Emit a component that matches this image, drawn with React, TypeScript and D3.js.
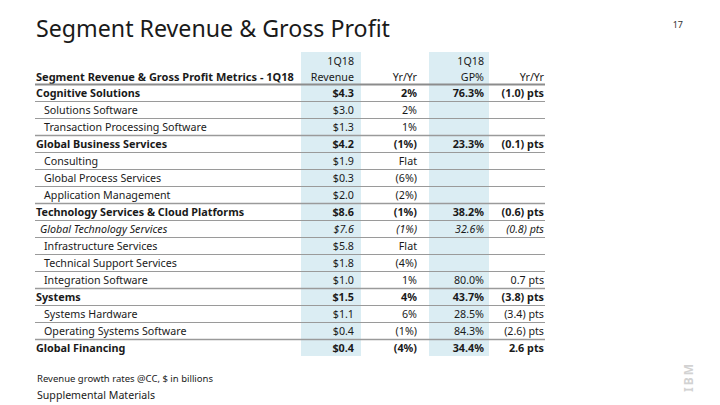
import React from "react";
import * as d3 from "d3";

const rowLabels = [
  "Cognitive Solutions",
  "Solutions Software",
  "Transaction Processing Software",
  "Global Business Services",
  "Consulting",
  "Global Process Services",
  "Application Management",
  "Technology Services & Cloud Platforms",
  "Global Technology Services",
  "Infrastructure Services",
  "Technical Support Services",
  "Integration Software",
  "Systems",
  "Systems Hardware",
  "Operating Systems Software",
  "Global Financing",
];
const rowTypes = ["seg", "sub", "sub", "seg", "sub", "sub", "sub", "seg", "ital", "sub", "sub", "sub", "seg", "sub", "sub", "seg"];
const revenue = ["$4.3", "$3.0", "$1.3", "$4.2", "$1.9", "$0.3", "$2.0", "$8.6", "$7.6", "$5.8", "$1.8", "$1.0", "$1.5", "$1.1", "$0.4", "$0.4"];
const revYrYr = ["2%", "2%", "1%", "(1%)", "Flat", "(6%)", "(2%)", "(1%)", "(1%)", "Flat", "(4%)", "1%", "4%", "6%", "(1%)", "(4%)"];
const gpPct = ["76.3%", "", "", "23.3%", "", "", "", "38.2%", "32.6%", "", "", "80.0%", "43.7%", "28.5%", "84.3%", "34.4%"];
const gpYrYr = ["(1.0) pts", "", "", "(0.1) pts", "", "", "", "(0.6) pts", "(0.8) pts", "", "", "0.7 pts", "(3.8) pts", "(3.4) pts", "(2.6) pts", "2.6 pts"];
const headerTop = ["", "1Q18", "", "1Q18", ""];
const headerBottom = ["Segment Revenue & Gross Profit Metrics - 1Q18", "Revenue", "Yr/Yr", "GP%", "Yr/Yr"];

const FONT = "'Noto Sans', 'Open Sans', sans-serif";

export default function App() {
  const W = 720, H = 405;
  const tableLeft = 36, tableRight = 545;
  const y = d3.scaleBand<number>().domain(d3.range(rowLabels.length)).range([84, 84 + 17 * rowLabels.length]);
  const colRight = [0, 354, 417, 484, 544];
  const shades = [[301, 361], [429, 489]];
  const textColor = "#1a1a1a";

  return (
    <svg width={W} height={H} style={{ position: "absolute", left: 0, top: 0 }} fontFamily={FONT}>
      <rect width={W} height={H} fill="#fff" />
      <text x={36} y={37} fontSize={23.2} fill={textColor}>Segment Revenue &amp; Gross Profit</text>
      <text x={683} y={28} fontSize={9} fill="#333" textAnchor="end">17</text>

      {shades.map(([a, b], i) => (
        <rect key={i} x={a} y={52} width={b - a} height={y.range()[1] - 52} fill="#dbedf3" />
      ))}

      {headerTop.map((t, i) => t ? (
        <text key={"ht" + i} x={colRight[i]} y={65} fontSize={10.7} textAnchor="end" fill={textColor}>{t}</text>
      ) : null)}
      {headerBottom.map((t, i) => (
        <text key={"hb" + i} x={i === 0 ? tableLeft : colRight[i]} y={81} fontSize={i === 0 ? 11 : 10.7}
          fontWeight={i === 0 ? 700 : 400} textAnchor={i === 0 ? "start" : "end"} fill={textColor}>{t}</text>
      ))}

      <line x1={tableLeft - 1} x2={tableRight} y1={84.5} y2={84.5} stroke="#8c8c8c" strokeWidth={2} />
      {rowLabels.map((_, i) => i > 0 ? (
        <line key={"l" + i} x1={tableLeft - 1} x2={tableRight} y1={y(i)! + 0.5} y2={y(i)! + 0.5}
          stroke="#9a9a9a" strokeWidth={rowTypes[i] === "seg" ? 1.6 : 1.2} />
      ) : null)}

      {rowLabels.map((lab, i) => {
        const t = rowTypes[i];
        const weight = t === "seg" ? 700 : 400;
        const style = t === "ital" ? "italic" : "normal";
        const base = y(i)! + 13;
        const fs = t === "seg" ? 10.8 : 10.7;
        const lx = t === "seg" ? tableLeft : t === "ital" ? 40 : 44;
        const vals = [revenue[i], revYrYr[i], gpPct[i], gpYrYr[i]];
        return (
          <g key={"r" + i} fill={textColor} fontWeight={weight} fontStyle={style} fontSize={fs}>
            <text x={lx} y={base}>{lab}</text>
            {vals.map((v, j) => v ? (
              <text key={j} x={colRight[j + 1]} y={base} textAnchor="end">{v}</text>
            ) : null)}
          </g>
        );
      })}

      <text x={37} y={382} fontSize={9.5} fill={textColor}>Revenue growth rates @CC, $ in billions</text>
      <text x={37} y={399} fontSize={10.6} fill={textColor}>Supplemental Materials</text>

      <text transform="translate(693,392) rotate(-90)" fontSize={12} fontWeight={700} fill="#d2d2d2" letterSpacing={2}>IBM</text>
    </svg>
  );
}
